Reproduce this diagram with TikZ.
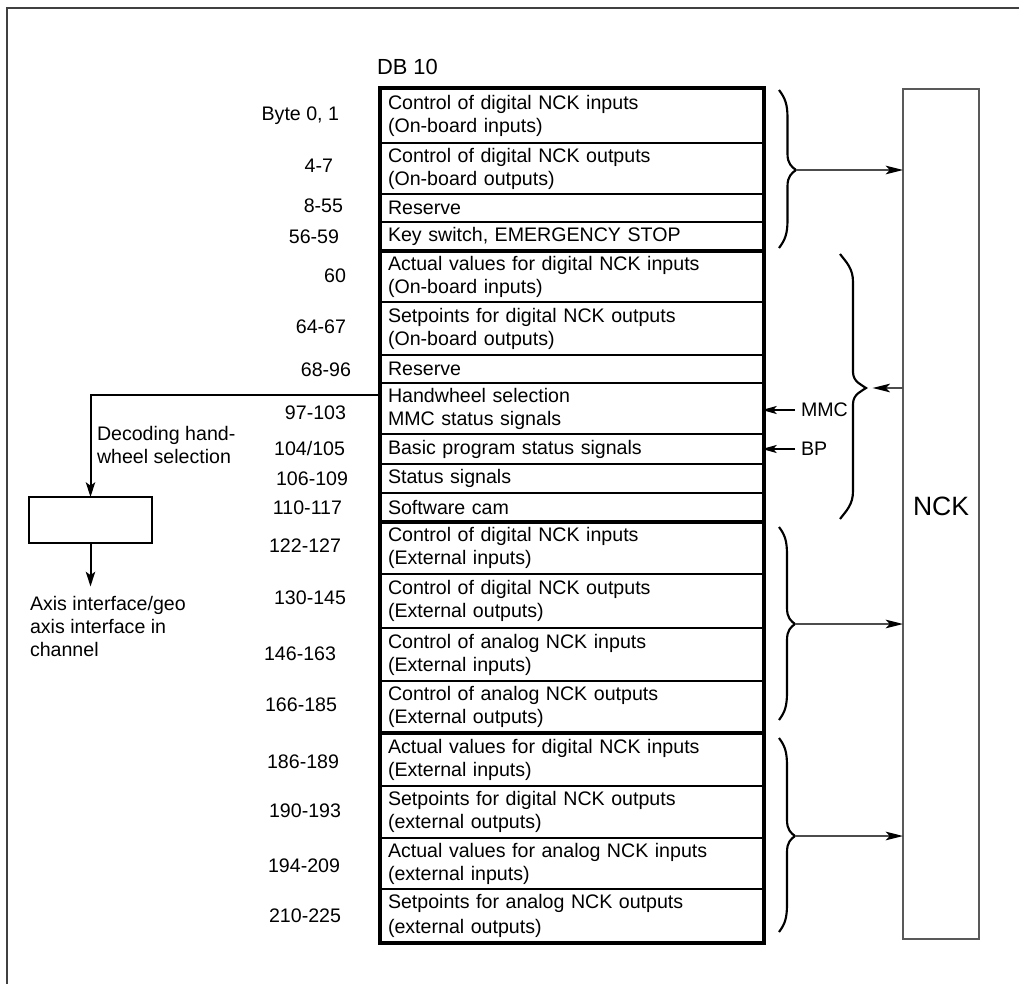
\documentclass[tikz,border=0pt]{standalone}
\usepackage{fontspec}
\setmainfont{Liberation Sans}
\usetikzlibrary{arrows.meta,calc}

% one DB 10 row: name, top y, bottom y, text
\newcommand{\dbrow}[4]{%
  \node[row, minimum height={(#3-#2)*0.75pt}] (#1) at (572,{(#2+#3)/2}) {#4};}
% curly brace: x of the ends, x of the tip, top y, tip y, bottom y
\newcommand{\curly}[5]{%
  \draw[brace line] (#1,#3)
    .. controls ({#1+6},{#3+8}) and ({(#1+#2)/2},{#3+14}) .. ({(#1+#2)/2},{#3+28})
    -- ({(#1+#2)/2},{#4-16})
    .. controls ({(#1+#2)/2},{#4-6}) and ({#2-4},{#4-3}) .. (#2,#4)
    .. controls ({#2-4},{#4+3}) and ({(#1+#2)/2},{#4+6}) .. ({(#1+#2)/2},{#4+16})
    -- ({(#1+#2)/2},{#5-28})
    .. controls ({(#1+#2)/2},{#5-14}) and ({#1+6},{#5-8}) .. (#1,#5);}

\begin{document}
\begin{tikzpicture}[x=0.75pt,y=-0.75pt,
  every node/.style={font=\fontsize{14.7}{17.25}\selectfont, inner sep=0pt, outer sep=0pt},
  row/.style={draw=black, line width=0.9pt, rectangle, minimum width=288pt,
    text width=276pt, inner xsep=6pt, inner ysep=0pt, align=left},
  group/.style={draw=black, line width=3.4pt},
  lab/.style={anchor=east, text height=10.5pt, text depth=0pt},
  note/.style={anchor=west, align=left},
  brace line/.style={draw=black, line width=1.6pt},
  conn/.style={draw=black!70, line width=1pt, -{Stealth[length=13pt,width=6.5pt,inset=3pt,color=black]}},
  sig/.style={draw=black, line width=1.1pt, -{Stealth[length=11pt,width=6pt,inset=2.5pt]}},
  hw/.style={draw=black, line width=1.5pt, -{Stealth[length=11pt,width=7pt,inset=2.5pt]}},
  frame/.style={draw=black!75, line width=1.1pt}]

\useasboundingbox (0,0) rectangle (1019,984);
\draw[frame] (7,984) -- (7,8) -- (1019,8);

% data block title
\node[anchor=west, font=\fontsize{16.4}{19}\selectfont] (db) at (377,67) {DB 10};

% rows of DB 10
\dbrow{r1}{88}{143}{Control of digital NCK inputs\\(On-board inputs)}
\dbrow{r2}{143}{194}{Control of digital NCK outputs\\(On-board outputs)}
\dbrow{r3}{194}{222}{Reserve}
\dbrow{r4}{222}{251}{Key switch, EMERGENCY STOP}
\dbrow{r5}{251}{302}{Actual values for digital NCK inputs\\(On-board inputs)}
\dbrow{r6}{302}{355}{Setpoints for digital NCK outputs\\(On-board outputs)}
\dbrow{r7}{355}{383}{Reserve}
\dbrow{r8}{383}{434}{Handwheel selection\\MMC status signals}
\dbrow{r9}{434}{464}{Basic program status signals}
\dbrow{r10}{464}{493}{Status signals}
\dbrow{r11}{493}{522}{Software cam}
\dbrow{r12}{522}{574}{Control of digital NCK inputs\\(External inputs)}
\dbrow{r13}{574}{628}{Control of digital NCK outputs\\(External outputs)}
\dbrow{r14}{628}{681}{Control of analog NCK inputs\\(External inputs)}
\dbrow{r15}{681}{733}{Control of analog NCK outputs\\(External outputs)}
\dbrow{r16}{733}{786}{Actual values for digital NCK inputs\\(External inputs)}
\dbrow{r17}{786}{838}{Setpoints for digital NCK outputs\\(external outputs)}
\dbrow{r18}{838}{889}{Actual values for analog NCK inputs\\(external inputs)}
\dbrow{r19}{889}{943}{Setpoints for analog NCK outputs\\[1.5pt](external outputs)}

% heavy frames around the four signal groups
\draw[group] (r1.north west) rectangle (r4.south east);
\draw[group] (r5.north west) rectangle (r11.south east);
\draw[group] (r12.north west) rectangle (r15.south east);
\draw[group] (r16.north west) rectangle (r19.south east);

% byte addresses
\node[lab] (b1)  at (339,114) {Byte 0, 1};
\node[lab] (b2)  at (333,166) {4-7};
\node[lab] (b3)  at (343,206) {8-55};
\node[lab] (b4)  at (339,236) {56-59};
\node[lab] (b5)  at (346,275) {60};
\node[lab] (b6)  at (346,326) {64-67};
\node[lab] (b7)  at (351,369) {68-96};
\node[lab] (b8)  at (346,412) {97-103};
\node[lab] (b9)  at (345,448) {104/105};
\node[lab] (b10) at (348,478) {106-109};
\node[lab] (b11) at (342,507) {110-117};
\node[lab] (b12) at (341,545) {122-127};
\node[lab] (b13) at (346,597) {130-145};
\node[lab] (b14) at (336,653) {146-163};
\node[lab] (b15) at (337,704) {166-185};
\node[lab] (b16) at (339,761) {186-189};
\node[lab] (b17) at (341,810) {190-193};
\node[lab] (b18) at (340,865) {194-209};
\node[lab] (b19) at (341,915) {210-225};

% NCK block
\node[draw=black!65, line width=0.9pt, minimum width=57pt, minimum height=637.5pt] (nck) at (941,514) {};
\node[font=\fontsize{19.9}{22}\selectfont] (ncklabel) at (941,506) {NCK};

% braces and their links to the NCK
\curly{779}{796}{90}{170}{248}
\coordinate (t1) at (796,170);
\curly{840}{866}{254}{388}{519}
\coordinate (t2) at (866,388);
\curly{779}{795}{527}{624}{720}
\coordinate (t3) at (795,624);
\curly{779}{795}{738}{836}{932}
\coordinate (t4) at (795,836);

\draw[conn] (t1) -- (nck.west |- t1);
\draw[conn, shorten >=5pt] (nck.west |- t2) -- (t2);
\draw[conn] (t3) -- (nck.west |- t3);
\draw[conn] (t4) -- (nck.west |- t4);

% MMC and basic program inputs
\node[anchor=west] (mmc) at (801,410) {MMC};
\node[anchor=west] (bp) at (801,449) {BP};
\draw[sig, shorten <=4.5pt, shorten >=-1.5pt] (mmc.west) -- (r8.east |- mmc.west);
\draw[sig, shorten <=4.5pt, shorten >=-1.5pt] (bp.west) -- (r9.east |- bp.west);

% handwheel decoding branch
\node[draw=black, line width=1.1pt, minimum width=92.25pt, minimum height=34.5pt] (dec) at (90.5,520) {};
\node[note] (dectext) at (97,445) {Decoding hand-\\wheel selection};
\node[note] (axis) at (30,626) {Axis interface/geo\\axis interface in\\channel};
\draw[hw] ($(r8.north west)+(0,12)$) -| (dec.north);
\draw[hw, shorten >=7pt] (dec.south) -- (dec.south |- axis.north);
\end{tikzpicture}
\end{document}
